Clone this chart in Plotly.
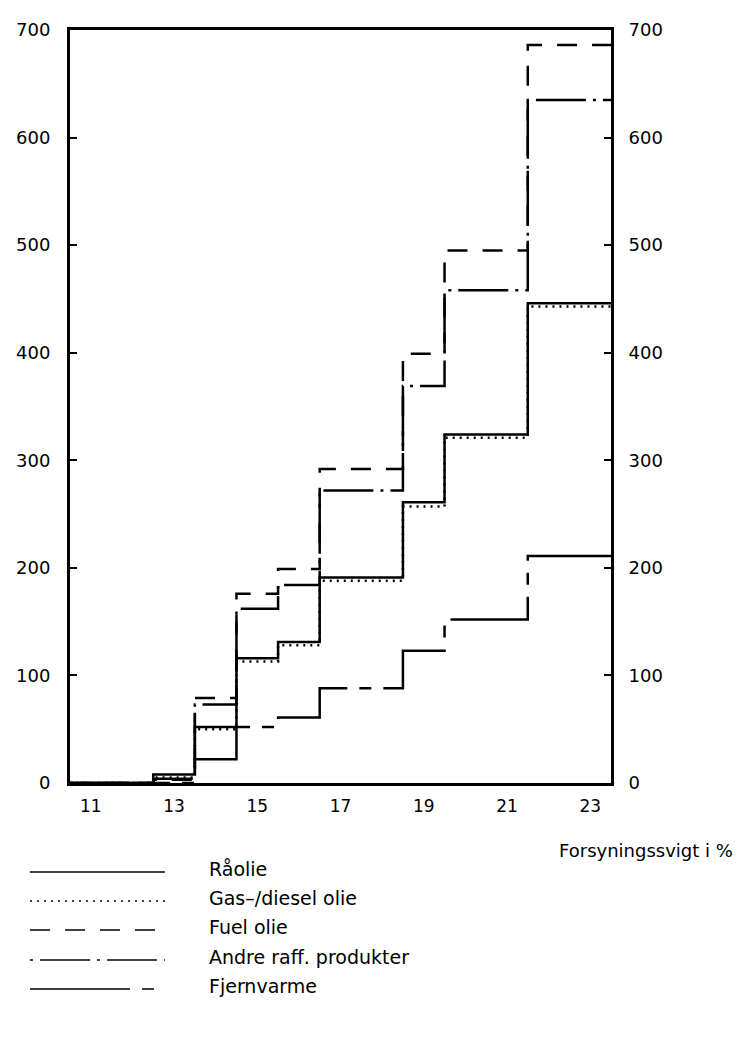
import plotly.graph_objects as go

# ---- data ----
x_edges = [10.5, 12.5, 13.5, 14.5, 15.5, 16.5, 18.5, 19.5, 21.5, 23.5]
raaolie = [0, 8, 52, 116, 131, 191, 261, 324, 446]
gas_diesel = [0, 5, 50, 113, 128, 188, 257, 321, 443]
fuel_olie = [0, 3, 79, 176, 199, 292, 399, 495, 686]
andre_raff = [0, 4, 73, 162, 184, 272, 369, 458, 635]
fjernvarme = [0, 0, 22, 52, 61, 88, 123, 152, 211]
series_names = ["Råolie", "Gas–/diesel olie", "Fuel olie",
                "Andre raff. produkter", "Fjernvarme"]
x_tick_vals = [11, 13, 15, 17, 19, 21, 23]
y_tick_vals = [0, 100, 200, 300, 400, 500, 600, 700]
x_title = "Forsyningssvigt i %"

series = [raaolie, gas_diesel, fuel_olie, andre_raff, fjernvarme]
dashes = ["solid", "2px,5px", "20px,15px", "3px,7px,50px,7px", "100px,12px,12px,12px"]

# ---- layout constants ----
W, H = 739, 1040
L, R, T, B = 70, 128, 30, 257
PW, PH = W - L - R, H - T - B
FONT = "DejaVu Sans"

def px_x(px):
    return (px - L) / PW

def px_y(py):
    return (H - B - py) / PH

fig = go.Figure()
for name, vals, dash in zip(series_names, series, dashes):
    fig.add_trace(go.Scatter(
        x=x_edges, y=vals + [vals[-1]], mode="lines", name=name,
        line=dict(color="black", width=2.5, dash=dash, shape="hv"),
        showlegend=False, hoverinfo="skip"))

# dummy trace for the right axis
fig.add_trace(go.Scatter(x=[x_edges[0]], y=[0], yaxis="y2", mode="lines",
                         showlegend=False, hoverinfo="skip",
                         line=dict(color="rgba(0,0,0,0)")))

ytick_font = dict(family=FONT, size=18, color="black")

fig.update_layout(
    width=W, height=H,
    margin=dict(l=L, r=R, t=T, b=B, autoexpand=False),
    paper_bgcolor="white", plot_bgcolor="white",
    showlegend=False,
    xaxis=dict(range=[10.5, 23.5], tickvals=x_tick_vals, ticks="",
               showline=True, mirror=True, ticklabelstandoff=6,
               showgrid=False, zeroline=False, linecolor="black", linewidth=3,
               tickfont=dict(family=FONT, size=17, color="black")),
    yaxis=dict(range=[0, 700], tickvals=y_tick_vals, ticks="inside", ticklen=7,
               tickwidth=1.5, tickcolor="black", showline=True, mirror=True,
               ticklabelstandoff=13, showgrid=False, zeroline=False,
               linecolor="black", linewidth=3, tickfont=ytick_font),
    yaxis2=dict(range=[0, 700], tickvals=y_tick_vals, ticks="inside", ticklen=7,
                tickwidth=1.5, tickcolor="black", overlaying="y", side="right",
                showline=True, ticklabelstandoff=11, showgrid=False, zeroline=False,
                linecolor="black", linewidth=3, tickfont=ytick_font),
)

# x-axis title
fig.add_annotation(x=px_x(735), y=px_y(851), xref="paper", yref="paper",
                   text=x_title, showarrow=False, xanchor="right", yanchor="middle",
                   font=dict(family=FONT, size=18, color="black"))

# custom legend with long line samples
row_y = [869, 898, 927, 957, 986]
for name, dash, ry in zip(series_names, dashes, row_y):
    fig.add_shape(type="line", xref="paper", yref="paper",
                  x0=px_x(30), x1=px_x(165), y0=px_y(ry + 3), y1=px_y(ry + 3),
                  line=dict(color="black", width=1.5, dash=dash))
    fig.add_annotation(x=px_x(207), y=px_y(ry), xref="paper", yref="paper",
                       text=name, showarrow=False, xanchor="left", yanchor="middle",
                       font=dict(family=FONT, size=19, color="black"))

fig.write_html("out.html")
